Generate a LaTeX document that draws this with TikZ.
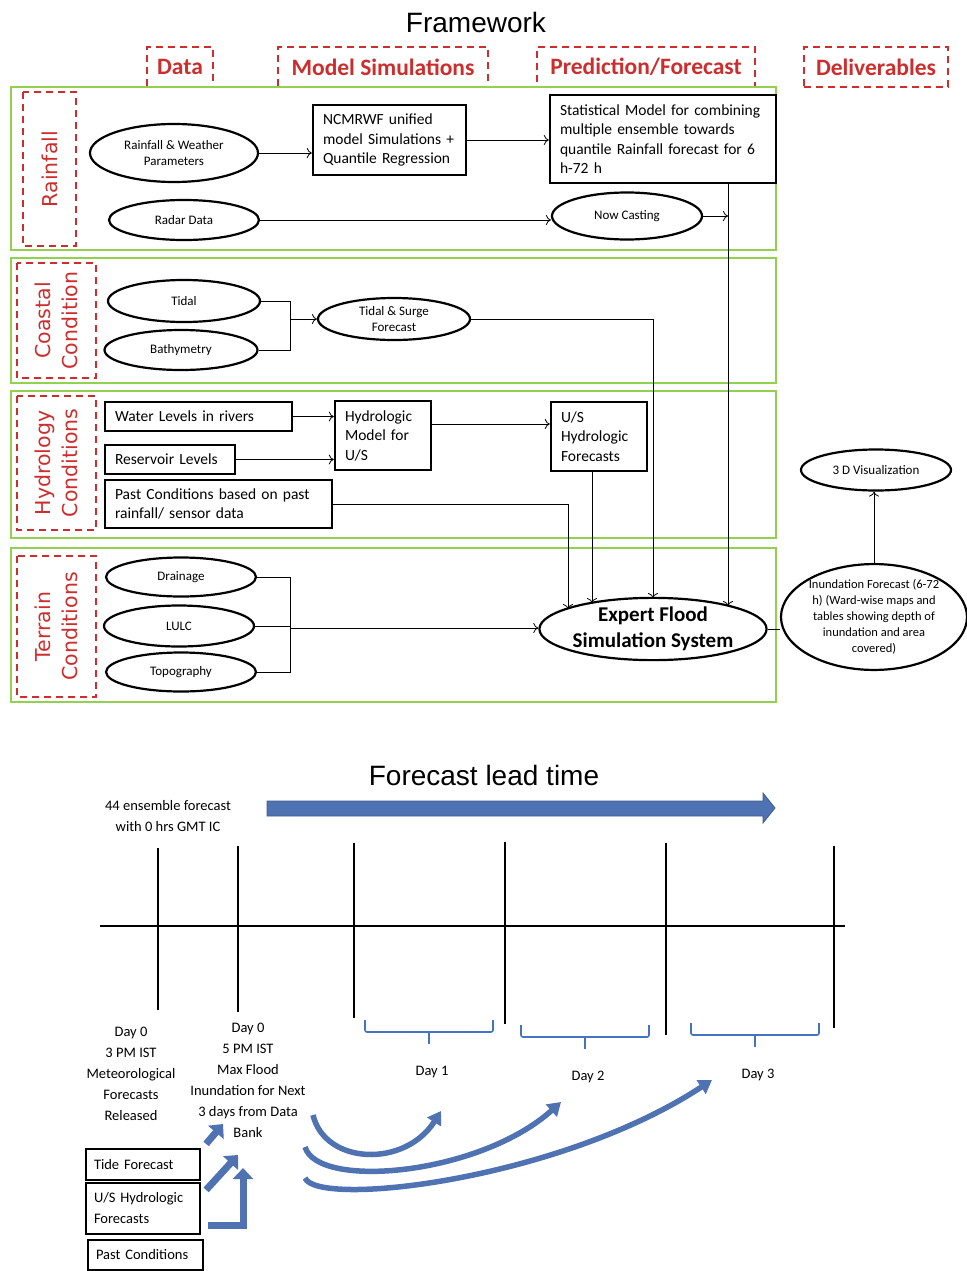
\documentclass[tikz,border=0pt]{standalone}
\usepackage{fontspec}
\setmainfont{Carlito}
\newfontfamily\headfont{Liberation Sans}
\newfontfamily\sidefont{DejaVu Sans}
\usetikzlibrary{shapes.geometric,arrows.meta}
\definecolor{secgreen}{RGB}{146,208,80}
\definecolor{labred}{RGB}{204,45,45}
\definecolor{flowblue}{RGB}{79,114,178}
\definecolor{bracketblue}{RGB}{68,114,196}

\begin{document}
\begin{tikzpicture}[x=1pt, y=-1pt,
    sect/.style={draw=secgreen, line width=2.6pt},
    tag/.style={draw=labred, dash pattern=on 7pt off 5pt, line width=1.6pt, inner sep=0pt},
    headtag/.style={tag, text=labred, font=\fontsize{23.5}{28}\selectfont\bfseries, minimum height=40pt},
    sidetag/.style={tag, rotate=90, text=labred, align=center, font=\sidefont\fontsize{20.5}{27}\selectfont},
    ell/.style={ellipse, draw, line width=2.2pt, inner sep=0pt, align=center, font=\fontsize{13}{16}\selectfont},
    blk/.style={draw, line width=2.4pt, inner xsep=10pt, inner ysep=0pt, align=left, font=\fontsize{15.5}{19.5}\selectfont},
    tbox/.style={draw, line width=2.2pt, inner xsep=8pt, inner ysep=0pt, align=left, font=\fontsize{14.5}{21}\selectfont},
    tl/.style={align=center, font=\fontsize{14.5}{21}\selectfont},
    arr/.style={-{To[length=5pt,width=10pt]}, line width=0.8pt},
    wire/.style={line width=0.8pt},
    fatarr/.style={flowblue, line width=7pt, -{Triangle[length=11pt,width=20pt]}},
    sweep/.style={flowblue, line width=5.5pt, -{Triangle[length=13pt,width=16pt]}},
    brace/.style={bracketblue, line width=1.6pt, rounded corners=2pt},
    tick/.style={line width=1.4pt}]
\useasboundingbox (0,0) rectangle (966,1271);

% ---------- framework ----------
\node[font=\headfont\fontsize{28}{32}\selectfont] (title) at (476,22) {Framework};
\node[headtag, minimum width=66pt] (hdata) at (180,67) {Data};
\node[headtag, minimum width=210pt] (hmodel) at (383,67) {Model Simulations};
\node[headtag, minimum width=218pt] (hpred) at (646,67) {Prediction/Forecast};
\node[headtag, minimum width=144pt] (hdeliv) at (876,67) {Deliverables};

\draw[sect] (11,87) rectangle (776,250);
\draw[sect] (11,258) rectangle (776,383);
\draw[sect] (11,391) rectangle (776,538);
\draw[sect] (11,548) rectangle (776,702);

\node[sidetag, minimum width=154pt, minimum height=53pt] (train) at (49.5,169) {Rainfall};
\node[sidetag, minimum width=115pt, minimum height=79pt] (tcoast) at (56.5,320.5) {Coastal\\Condition};
\node[sidetag, minimum width=134pt, minimum height=79pt] (thydro) at (56.5,463) {Hydrology\\Conditions};
\node[sidetag, minimum width=141pt, minimum height=79pt] (tterr) at (56.5,626.5) {Terrain\\Conditions};

% rainfall
\node[ell, minimum width=168pt, minimum height=58pt] (rwp) at (174,153) {Rainfall \& Weather\\Parameters};
\node[ell, minimum width=150pt, minimum height=40pt] (radar) at (184,220) {Radar Data};
\node[blk, text width=133pt, minimum height=70pt] (ncm) at (389.5,140) {NCMRWF unified\\model Simulations +\\Quantile Regression};
\node[blk, text width=206pt, minimum height=88pt] (stat) at (663,139) {Statistical Model for combining\\multiple ensemble towards\\quantile Rainfall forecast for 6\\h-72 h};
\node[ell, minimum width=150pt, minimum height=47pt] (nowc) at (627,216) {Now Casting};

% coastal
\node[ell, minimum width=152pt, minimum height=42pt] (tidal) at (184,301) {Tidal};
\node[ell, minimum width=153pt, minimum height=40pt] (bathy) at (181,350) {Bathymetry};
\node[ell, minimum width=152pt, minimum height=42pt] (surge) at (394,319) {Tidal \& Surge\\Forecast};

% hydrology
\node[blk, text width=167pt, minimum height=29pt] (water) at (198.5,416.5) {Water Levels in rivers};
\node[blk, text width=110pt, minimum height=29pt] (resv) at (170,459.5) {Reservoir Levels};
\node[blk, text width=207pt, minimum height=48pt] (past) at (218.5,504) {Past Conditions based on past\\rainfall/ sensor data};
\node[blk, text width=76pt, minimum height=69pt] (hydm) at (383,435.5) {Hydrologic\\Model for\\U/S};
\node[blk, text width=76pt, minimum height=69pt] (usf) at (599,436.5) {U/S\\Hydrologic\\Forecasts};

% terrain
\node[ell, minimum width=150pt, minimum height=39pt] (drain) at (181,577) {Drainage};
\node[ell, minimum width=150pt, minimum height=41pt] (lulc) at (179,626) {LULC};
\node[ell, minimum width=150pt, minimum height=39pt] (topo) at (181,672) {Topography};
\node[ell, minimum width=225pt, minimum height=62pt, font=\fontsize{21}{26}\selectfont\bfseries] (expert) at (653,629) {Expert Flood\\Simulation System};
\node[ell, minimum width=186pt, minimum height=99pt, font=\fontsize{12.5}{16}\selectfont] (inund) at (874,617) {Inundation Forecast (6-72\\h) (Ward-wise maps and\\tables showing depth of\\inundation and area\\covered)};
\node[ell, minimum width=150pt, minimum height=41pt] (vis) at (876,470) {3 D Visualization};

\coordinate (fin) at (728,606);
\coordinate (fsg) at (653,598);
\coordinate (fus) at (592,603);
\coordinate (fpc) at (568,609);
\coordinate (cj) at (290,319);
\coordinate (tj) at (290,628);
\coordinate (hm) at ([yshift=11.5pt]hydm.east);

\draw[arr] (rwp.east) -- (rwp.east -| ncm.west);
\draw[arr] (ncm.east) -- (ncm.east -| stat.west);
\draw[arr] (radar.east) -- (radar.east -| nowc.west);
\draw[arr] (nowc.east) -- (nowc.east -| fin);
\draw[arr] (stat.south -| fin) -- (fin);
\draw[wire] (tidal.east) -| (bathy.east -| cj) -- (bathy.east);
\draw[arr] (cj) -- (cj -| surge.west);
\draw[arr] (surge.east) -| (fsg);
\draw[arr] (water.east) -- (water.east -| hydm.west);
\draw[arr] (resv.east) -- (resv.east -| hydm.west);
\draw[arr] (hm) -- (hm -| usf.west);
\draw[arr] (past.east) -| (fpc);
\draw[arr] (usf.south -| fus) -- (fus);
\draw[wire] (drain.east) -| (topo.east -| tj) -- (topo.east);
\draw[wire] (lulc.east) -- (lulc.east -| tj);
\draw[arr] (tj) -- (tj -| expert.west);
\draw[wire] (expert.east) -- (expert.east -| inund.west);
\draw[arr] (inund.north) -- (inund.north |- vis.south);

% ---------- forecast lead time ----------
\node[font=\headfont\fontsize{28}{32}\selectfont] (title2) at (484,775) {Forecast lead time};
\node[tl] (ens) at (168,816) {44 ensemble forecast\\with 0 hrs GMT IC};
\filldraw[fill=flowblue, draw=flowblue!80!black, line width=0.8pt]
  (267,801) -- (763,801) -- (763,793) -- (775,808) -- (763,823) -- (763,816) -- (267,816) -- cycle;

\draw[tick] (100,926) -- (845,926);
\foreach \x/\a/\b in {158/848/1010, 238/846/1012, 354/843/1018, 505/842/1024, 666/843/1035, 834/846/1028}
  \draw[tick] (\x,\a) -- (\x,\b);

\foreach \l/\r/\t/\n in {365/493/1020/1, 521/649/1025/2, 691/819/1023/3} {
  \draw[brace] (\l,\t) -- (\l,\t+12) -- (\r,\t+12) -- (\r,\t);
  \draw[brace] ({(\l+\r)/2},\t+12) -- ({(\l+\r)/2},\t+24);
  \node[tl] (day\n) at ({(\l+\r)/2+3},\t+52) {Day \n};
}

\node[tl] (d0a) at (131,1074) {Day 0\\3 PM IST\\Meteorological\\Forecasts\\Released};
\node[tl] (d0b) at (248,1080) {Day 0\\5 PM IST\\Max Flood\\Inundation for Next\\3 days from Data\\Bank};

\node[tbox, text width=98pt, minimum height=31pt] (tide) at (143,1164.5) {Tide Forecast};
\node[tbox, text width=98pt, minimum height=51pt] (ushf) at (143,1208.5) {U/S Hydrologic\\Forecasts};
\node[tbox, text width=99pt, minimum height=30pt] (pastc) at (145.5,1255) {Past Conditions};

\coordinate (p1) at (223,1124);
\coordinate (p2) at (238,1155);
\coordinate (p3) at (243,1168);
\draw[fatarr] ([shift={(5pt,4pt)}]tide.north east) -- (p1);
\draw[fatarr] ([shift={(5pt,-8pt)}]ushf.north east) -- (p2);
\draw[fatarr] ([xshift=4pt,yshift=13pt]pastc.north east) -| (p3);

\coordinate (s1) at (313,1115);
\coordinate (s2) at (305,1147);
\coordinate (s3) at (305,1178);
\coordinate (e1) at (441,1111);
\coordinate (e2) at (561,1102);
\coordinate (e3) at (712,1080);
\draw[sweep] (s1) .. controls (325,1165) and (405,1168) .. (e1);
\draw[sweep] (s2) .. controls (318,1190) and (480,1175) .. (e2);
\draw[sweep] (s3) .. controls (318,1208) and (560,1180) .. (e3);
\end{tikzpicture}
\end{document}
